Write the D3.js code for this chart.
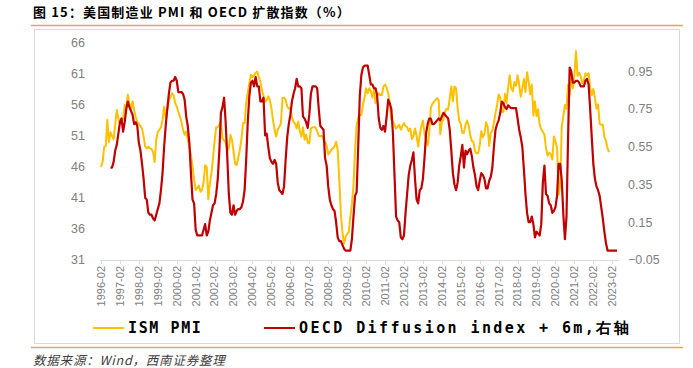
<!DOCTYPE html>
<html>
<head>
<meta charset="utf-8">
<script src="https://cdn.jsdelivr.net/npm/d3@7/dist/d3.min.js"></script>
<style>
  body { margin: 0; background: #fff; }
  svg { display: block; font-family: "Liberation Sans", Arial, sans-serif; }
</style>
</head>
<body>
<svg id="chart" width="693" height="368"></svg>
<script>
// set up data (monthly, first PMI point = 1996-02)
var pmi = [
  46.0, 46.8, 49.2, 49.4, 53.6, 50.0, 51.6, 51.0, 50.5, 52.8, 55.2,
  53.8, 53.0, 53.6, 53.8, 56.0, 55.4, 57.7, 56.2, 55.4, 56.6, 55.2, 54.0,
  53.3, 52.9, 52.6, 52.2, 50.9, 49.3, 49.0, 49.3, 49.0, 48.9, 48.4, 46.8,
  50.4, 51.7, 52.0, 52.4, 53.6, 55.7, 54.0, 55.2, 56.8, 57.2, 57.9, 57.6,
  56.3, 55.8, 54.9, 54.2, 53.2, 52.0, 51.2, 51.7, 50.4, 49.2, 48.0, 46.0,
  44.0, 42.3, 42.6, 43.0, 42.0, 42.3, 43.5, 46.3, 46.0, 40.8, 43.4, 45.0,
  47.5, 50.2, 52.4, 52.4, 52.8, 53.3, 50.6, 50.3, 50.0, 48.7, 49.0, 51.2,
  50.4, 48.5, 46.5, 46.3, 47.5, 48.8, 50.5, 53.1, 53.1, 56.3, 58.0, 59.5,
  60.9, 60.5, 60.8, 61.2, 61.4, 60.5, 59.7, 58.4, 57.5, 56.5, 56.8, 57.4,
  56.8, 55.5, 53.6, 52.0, 50.9, 52.0, 52.5, 53.0, 57.1, 57.2, 56.8, 55.8,
  55.4, 55.6, 54.0, 53.3, 53.0, 52.2, 53.3, 51.8, 50.9, 52.4, 50.4, 51.2,
  49.9, 49.8, 52.2, 52.4, 52.4, 52.4, 51.8, 51.0, 51.0, 51.0, 50.4, 50.1,
  49.5, 48.0, 48.4, 48.8, 49.0, 49.3, 50.1, 48.8, 44.0, 38.5, 35.5, 33.6,
  34.7, 35.2, 35.5, 38.0, 40.0, 43.0, 48.8, 52.8, 54.0, 54.4, 54.4, 56.0,
  57.2, 58.7, 57.9, 58.7, 58.2, 57.2, 58.4, 56.3, 57.5, 57.9, 57.6, 57.6,
  59.0, 59.3, 58.8, 57.9, 56.3, 53.6, 53.4, 52.8, 52.2, 52.5, 52.8, 52.0,
  52.6, 53.1, 52.6, 52.4, 51.8, 52.2, 50.5, 51.0, 52.2, 51.0, 49.3, 51.2,
  52.5, 53.5, 51.5, 50.3, 49.5, 51.5, 55.5, 56.2, 56.5, 56.8, 57.1, 56.8,
  51.3, 53.2, 53.7, 54.9, 55.4, 55.3, 57.1, 59.0, 56.6, 59.0, 58.7, 55.5,
  53.5, 52.9, 51.5, 51.5, 52.8, 53.5, 52.7, 51.1, 50.2, 50.1, 48.6, 48.2,
  48.2, 49.5, 51.8, 50.8, 51.3, 53.2, 52.6, 49.4, 51.5, 51.9, 53.2, 54.7,
  56.0, 57.7, 57.2, 54.8, 54.9, 57.8, 56.3, 58.8, 60.8, 58.7, 58.2, 59.7,
  59.1, 60.8, 59.3, 57.3, 58.7, 60.2, 58.1, 61.3, 59.8, 57.7, 59.3, 54.3,
  56.6, 54.2, 55.3, 52.8, 52.1, 51.7, 51.2, 49.1, 47.8, 48.3, 48.1, 47.2,
  50.9, 50.1, 49.1, 41.5, 43.1, 52.6, 54.2, 56.0, 55.4, 59.3, 57.5, 60.7,
  58.7, 60.8, 64.7, 60.7, 61.2, 60.6, 59.5, 59.9, 61.1, 60.8, 61.1, 58.7,
  57.6, 58.6, 57.1, 55.4, 56.1, 53.0, 52.8, 52.8, 50.9, 50.2, 49.0, 48.4
];

// OECD diffusion index, already pushed forward 6 months (first point = 1996-08)
var oecdLead = 6;
var oecd = [
  0.44, 0.44, 0.47, 0.53, 0.56, 0.62, 0.68, 0.70, 0.63, 0.68,
  0.75, 0.79, 0.76, 0.74, 0.72, 0.67, 0.68, 0.66, 0.57, 0.53,
  0.46, 0.38, 0.28, 0.27, 0.20, 0.19, 0.19, 0.17, 0.16, 0.19,
  0.22, 0.25, 0.32, 0.41, 0.55, 0.66, 0.75, 0.83, 0.89, 0.90,
  0.90, 0.92, 0.90, 0.84, 0.84, 0.84, 0.83, 0.80, 0.71, 0.66,
  0.57, 0.41, 0.27, 0.25, 0.11, 0.08, 0.08, 0.08, 0.08, 0.11,
  0.14, 0.08, 0.10, 0.16, 0.20, 0.24, 0.25, 0.30, 0.38, 0.53,
  0.73, 0.76, 0.81, 0.68, 0.50, 0.30, 0.20, 0.19, 0.24, 0.19,
  0.21, 0.22, 0.22, 0.23, 0.26, 0.32, 0.48, 0.68, 0.82, 0.89,
  0.90, 0.87, 0.92, 0.87, 0.87, 0.79, 0.79, 0.81, 0.61, 0.62,
  0.55, 0.49, 0.47, 0.46, 0.48, 0.46, 0.36, 0.32, 0.31, 0.30,
  0.34, 0.48, 0.60, 0.67, 0.72, 0.79, 0.83, 0.86, 0.91, 0.87,
  0.87, 0.86, 0.71, 0.70, 0.68, 0.65, 0.72, 0.83, 0.87, 0.87,
  0.87, 0.86, 0.75, 0.66, 0.65, 0.64, 0.49, 0.45, 0.34, 0.27,
  0.24, 0.22, 0.21, 0.15, 0.07, 0.05, 0.05, 0.03, 0.01, 0.00,
  0.00, 0.00, 0.00, 0.06, 0.18, 0.29, 0.31, 0.55, 0.82, 0.93,
  0.97, 0.98, 0.98, 0.98, 0.93, 0.88, 0.88, 0.86, 0.86, 0.82,
  0.70, 0.65, 0.64, 0.66, 0.63, 0.71, 0.80, 0.78, 0.75, 0.62,
  0.40, 0.18, 0.16, 0.15, 0.07, 0.06, 0.08, 0.20, 0.30, 0.40,
  0.45, 0.48, 0.52, 0.38, 0.27, 0.25, 0.32, 0.33, 0.38, 0.49,
  0.62, 0.67, 0.70, 0.70, 0.67, 0.67, 0.68, 0.69, 0.70, 0.69,
  0.71, 0.73, 0.72, 0.71, 0.70, 0.64, 0.53, 0.41, 0.35, 0.32,
  0.36, 0.45, 0.50, 0.56, 0.44, 0.53, 0.51, 0.53, 0.54, 0.50,
  0.44, 0.40, 0.34, 0.32, 0.37, 0.41, 0.40, 0.38, 0.33, 0.33,
  0.37, 0.39, 0.44, 0.55, 0.64, 0.67, 0.69, 0.73, 0.79, 0.78,
  0.76, 0.75, 0.77, 0.76, 0.755, 0.755, 0.755, 0.755, 0.70, 0.64,
  0.60, 0.55, 0.43, 0.30, 0.20, 0.15, 0.15, 0.18, 0.14, 0.07,
  0.10, 0.09, 0.08, 0.14, 0.36, 0.45, 0.30, 0.29, 0.25, 0.24,
  0.20, 0.21, 0.23, 0.29, 0.46, 0.46, 0.37, 0.19, 0.06, 0.18,
  0.60, 0.97, 0.95, 0.89, 0.89, 0.90, 0.90, 0.89, 0.87, 0.87,
  0.87, 0.90, 0.91, 0.88, 0.75, 0.60, 0.46, 0.38, 0.34, 0.32,
  0.29, 0.23, 0.17, 0.10, 0.04, 0.00, 0.00, 0.00, 0.00, 0.00,
  0.00, 0.00
];

var xLabels = d3.range(1996, 2024).map(function(y) { return y + "-02"; });
var leftTicks = [31, 36, 41, 46, 51, 56, 61, 66];
var rightTicks = [-0.05, 0.15, 0.35, 0.55, 0.75, 0.95];
var nMonths = 328; // 1996-02 .. 2023-05

var title = "图 15：美国制造业 PMI 和 OECD 扩散指数（%）";
var source = "数据来源：Wind，西南证券整理";
var legendItems = [
  { name: "ISM PMI", color: "#ffc000", spacing: 1.6 },
  { name: "OECD Diffusion index + 6m,右轴", color: "#c00000", spacing: 2.4 }
];

var svg = d3.select("#chart");

var x = d3.scaleLinear().domain([0, nMonths - 1]).range([101, 617]),
    yL = d3.scaleLinear().domain([31, 66]).range([260, 43]),
    yR = d3.scaleLinear().domain([-0.05, 1.1]).range([260, 43]);

// title + rules
svg.append("text")
    .attr("x", 33).attr("y", 17)
    .style("font-family", "'Noto Sans CJK SC', sans-serif")
    .style("font-size", "13px").style("font-weight", "bold")
    .style("letter-spacing", "1.15px")
    .attr("fill", "#000")
    .text(title);

svg.append("line").attr("x1", 31).attr("x2", 683).attr("y1", 25.5).attr("y2", 25.5)
    .attr("stroke", "#e3a468").attr("stroke-width", 1.3);

svg.append("rect").attr("x", 34.5).attr("y", 29.5).attr("width", 645).attr("height", 314)
    .attr("fill", "none").attr("stroke", "#d9d9d9").attr("stroke-width", 1);

svg.append("line").attr("x1", 31).attr("x2", 683).attr("y1", 347.5).attr("y2", 347.5)
    .attr("stroke", "#e3a468").attr("stroke-width", 1.3);

svg.append("text")
    .attr("x", 33).attr("y", 365)
    .style("font-family", "'Noto Sans CJK SC', sans-serif")
    .style("font-size", "12.5px").style("font-style", "italic")
    .style("letter-spacing", "0.8px")
    .attr("fill", "#404040")
    .text(source);

// axes
var g = svg.append("g");

g.selectAll(".yl").data(leftTicks).enter().append("text")
    .attr("class", "yl")
    .attr("x", 85).attr("y", function(d) { return yL(d); })
    .attr("dy", "0.35em").attr("text-anchor", "end")
    .style("font-size", "12.5px").attr("fill", "#808080")
    .text(function(d) { return d; });

g.selectAll(".yr").data(rightTicks).enter().append("text")
    .attr("class", "yr")
    .attr("x", 628).attr("y", function(d) { return yR(d); })
    .attr("dy", "0.35em").attr("text-anchor", "start")
    .style("font-size", "12.5px").attr("fill", "#808080")
    .text(function(d) { return d3.format(".2f")(d); });

g.append("line").attr("x1", x(0) - 1).attr("x2", x(nMonths - 1) + 2)
    .attr("y1", 260.5).attr("y2", 260.5)
    .attr("stroke", "#d9d9d9").attr("stroke-width", 1);

g.selectAll(".tick").data(xLabels).enter().append("line")
    .attr("class", "tick")
    .attr("x1", function(d, i) { return Math.round(x(i * 12)) + 0.5; })
    .attr("x2", function(d, i) { return Math.round(x(i * 12)) + 0.5; })
    .attr("y1", 260).attr("y2", 264)
    .attr("stroke", "#d9d9d9");

g.selectAll(".xl").data(xLabels).enter().append("text")
    .attr("class", "xl")
    .attr("transform", function(d, i) { return "translate(" + x(i * 12) + ",266) rotate(-90)"; })
    .attr("dy", "0.35em").attr("text-anchor", "end")
    .style("font-size", "11px").attr("fill", "#808080")
    .text(function(d) { return d; });

// lines
var linePmi = d3.line()
    .x(function(d, i) { return x(i); })
    .y(function(d) { return yL(d); });

var lineOecd = d3.line()
    .x(function(d, i) { return x(i + oecdLead); })
    .y(function(d) { return yR(d); });

svg.append("path").datum(pmi)
    .attr("d", linePmi)
    .attr("fill", "none").attr("stroke", legendItems[0].color)
    .attr("stroke-width", 2).attr("stroke-linejoin", "round");

svg.append("path").datum(oecd)
    .attr("d", lineOecd)
    .attr("fill", "none").attr("stroke", legendItems[1].color)
    .attr("stroke-width", 2.2).attr("stroke-linejoin", "round");

// legend
var legX = [93, 264];
var leg = svg.selectAll(".leg").data(legendItems).enter().append("g")
    .attr("class", "leg")
    .attr("transform", function(d, i) { return "translate(" + legX[i] + ",328)"; });

leg.append("line").attr("x1", 0).attr("x2", 31).attr("y1", 0).attr("y2", 0)
    .attr("stroke", function(d) { return d.color; }).attr("stroke-width", 2);

leg.append("text")
    .attr("x", 35).attr("y", 0).attr("dy", "0.35em")
    .style("font-family", "'DejaVu Sans Mono', monospace")
    .style("font-size", "15px").style("font-weight", "bold")
    .style("letter-spacing", function(d) { return d.spacing + "px"; })
    .attr("fill", "#000")
    .text(function(d) { return d.name; });
</script>
</body>
</html>
